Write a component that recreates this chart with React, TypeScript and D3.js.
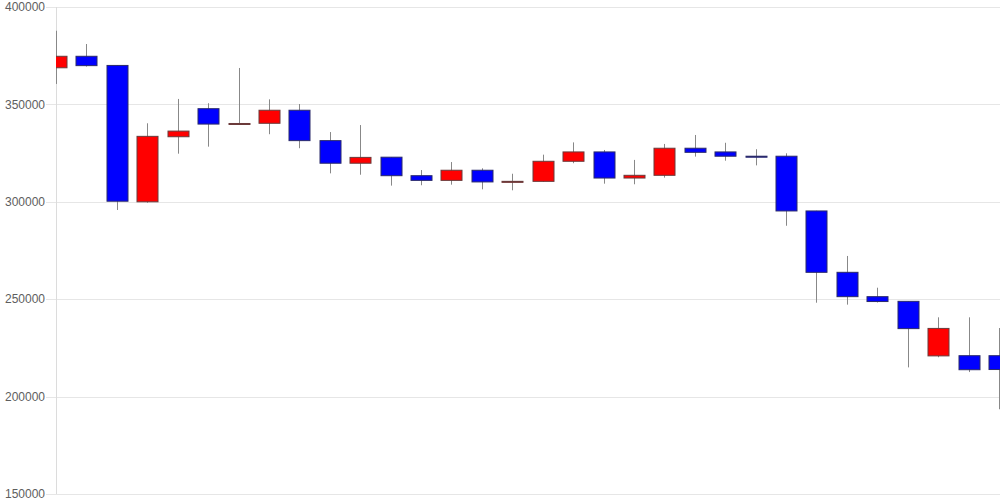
import React from "react";
import * as d3 from "d3";

const categories = Array.from({ length: 32 }, (_, i) => `${i + 1}`);
const opens = [368800, 374700, 370000, 300000, 333400, 347800, 340000, 340300, 347000, 331400, 319800, 322900, 313400, 311000, 316200, 310200, 310500, 320800, 325600, 312200, 313600, 327500, 325600, 323400, 323400, 295300, 263800, 251300, 248900, 220900, 221000, 221000];
const closes = [374700, 369900, 300300, 333600, 336300, 339900, 340200, 347000, 331400, 319800, 322800, 313400, 311000, 316200, 310200, 310500, 320800, 325600, 312200, 313600, 327500, 325400, 323400, 323000, 295300, 263800, 251300, 248800, 234900, 235000, 213800, 213900];
const highs = [387800, 381000, 370100, 340300, 352800, 350600, 368700, 352600, 350200, 335800, 339400, 322900, 316300, 320400, 317200, 314400, 324200, 330500, 326600, 321500, 329700, 334300, 330300, 327000, 324900, 295400, 272200, 255900, 249000, 240700, 240700, 235200];
const lows = [360500, 369400, 295800, 299500, 324700, 328300, 340000, 334700, 327500, 314600, 313900, 308300, 308500, 308800, 306400, 305900, 310300, 319800, 309300, 309000, 312400, 323200, 321100, 318700, 287700, 248200, 247200, 248300, 215000, 220200, 212600, 193500];
const yTicks = [150000, 200000, 250000, 300000, 350000, 400000];

const W = 1000;
const H = 500;
const left = 56.5;
const right = 999.5;
const top = 7;
const bottom = 494;

export default function App() {
  const x = d3.scalePoint<string>().domain(categories).range([left, right]);
  const y = d3.scaleLinear().domain([150000, 400000]).range([bottom, top]);
  const bw = 21;
  return (
    <svg width={W} height={H} style={{ position: "absolute", left: 0, top: 0, background: "#fff" }}>
      <defs>
        <clipPath id="plot">
          <rect x={56} y={0} width={W - 56} height={bottom + 1} />
        </clipPath>
      </defs>
      {yTicks.map((t) => (
        <g key={t}>
          <line x1={46} x2={W} y1={Math.round(y(t)) + 0.5} y2={Math.round(y(t)) + 0.5} stroke="#e6e6e6" strokeWidth={1} />
          <text x={45} y={y(t)} dy="0.35em" textAnchor="end" fontFamily="Liberation Sans, Arial, sans-serif" fontSize={12} fill="#5e5e5e">
            {t}
          </text>
        </g>
      ))}
      <line x1={56.5} x2={56.5} y1={top} y2={bottom} stroke="#dcdcdc" strokeWidth={1} />
      <g clipPath="url(#plot)">
        {categories.map((c, i) => {
          const cx = Math.floor(x(c)!) + 0.5;
          const o = opens[i];
          const cl = closes[i];
          const up = cl >= o;
          const y1 = y(Math.max(o, cl));
          const y2 = y(Math.min(o, cl));
          return (
            <g key={c}>
              <line x1={cx} x2={cx} y1={y(highs[i])} y2={y(lows[i])} stroke="#888" strokeWidth={1} />
              <rect
                x={cx - bw / 2}
                y={y1}
                width={bw}
                height={Math.max(1, y2 - y1)}
                fill={up ? "#ff0000" : "#0000ff"}
                stroke={up ? "#6a3a3a" : "#2a2a6a"}
                strokeWidth={1}
              />
            </g>
          );
        })}
      </g>
    </svg>
  );
}
